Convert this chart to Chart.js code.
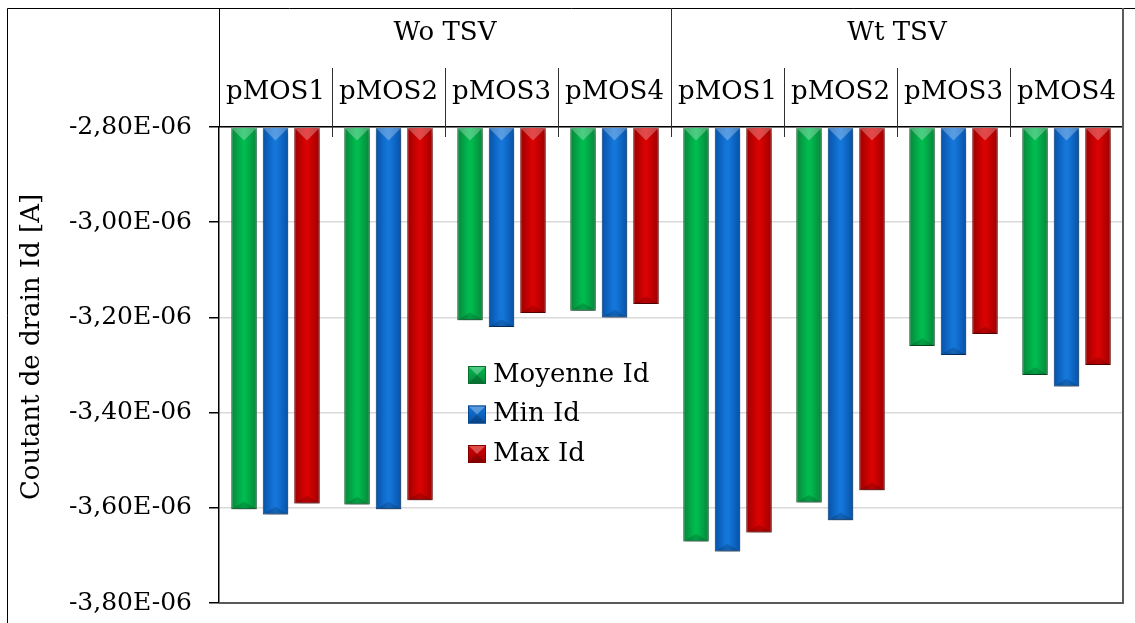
<!DOCTYPE html>
<html>
<head>
<meta charset="utf-8">
<script src="https://cdn.jsdelivr.net/npm/chart.js@4.4.1/dist/chart.umd.min.js"></script>
<style>
  body { margin: 0; background: #fff; }
  #wrap { width: 1135px; height: 623px; }
</style>
</head>
<body>
<div id="wrap"><canvas id="chart" width="1135" height="623"></canvas></div>
<script>
// data (A)
const categories = ['pMOS1', 'pMOS2', 'pMOS3', 'pMOS4', 'pMOS1', 'pMOS2', 'pMOS3', 'pMOS4'];
const groups = ['Wo TSV', 'Wt TSV'];
const moyenneId = [-3.603e-6, -3.593e-6, -3.206e-6, -3.186e-6, -3.671e-6, -3.589e-6, -3.260e-6, -3.321e-6];
const minId = [-3.614e-6, -3.603e-6, -3.220e-6, -3.200e-6, -3.692e-6, -3.626e-6, -3.279e-6, -3.345e-6];
const maxId = [-3.591e-6, -3.584e-6, -3.191e-6, -3.172e-6, -3.652e-6, -3.563e-6, -3.235e-6, -3.300e-6];
const yTitle = 'Coutant de drain Id [A]';

const FONT = "'DejaVu Serif', serif";
const CAT_PCT = 0.836;
const BAR_PCT = 0.81;

// [edge, centre, border]
const palette = [
  ['#08853a', '#00bb4f', '#0a6e30'],
  ['#0652a6', '#1576da', '#08458a'],
  ['#9c0000', '#d90202', '#800000']
];

function fmt(v) {
  const s = v.toExponential(2).split('e');
  const ex = parseInt(s[1], 10);
  return s[0].replace('.', ',') + 'E' + (ex < 0 ? '-' : '+') + String(Math.abs(ex)).padStart(2, '0');
}

// horizontal shading across each bar, from the x scale
function barFill(context) {
  const chart = context.chart;
  const x = chart.scales.x;
  const pal = palette[context.datasetIndex];
  if (!x || context.dataIndex === undefined) return pal[1];
  const cw = x.width / categories.length;
  const slot = cw * CAT_PCT / 3;
  const cx = x.getPixelForValue(context.dataIndex) + (context.datasetIndex - 1) * slot;
  const hw = slot * BAR_PCT / 2;
  if (!isFinite(cx) || !isFinite(hw) || hw <= 0) return pal[1];
  const g = chart.ctx.createLinearGradient(cx - hw, 0, cx + hw, 0);
  g.addColorStop(0, pal[0]);
  g.addColorStop(0.45, pal[1]);
  g.addColorStop(0.55, pal[1]);
  g.addColorStop(1, pal[0]);
  return g;
}

function dataset(label, values, i) {
  return {
    label,
    data: values,
    base: -2.8e-6,
    backgroundColor: barFill,
    borderColor: palette[i][2],
    borderWidth: 1,
    categoryPercentage: CAT_PCT,
    barPercentage: BAR_PCT
  };
}

function line(ctx, x1, y1, x2, y2) {
  ctx.beginPath();
  ctx.moveTo(x1, y1);
  ctx.lineTo(x2, y2);
  ctx.stroke();
}

const barStyle = {
  id: 'barStyle',
  beforeDatasetsDraw(chart) {
    const c = chart.ctx;
    c.save();
    c.shadowColor = 'rgba(0,0,0,0.35)';
    c.shadowBlur = 6;
    c.shadowOffsetX = 2;
    c.shadowOffsetY = 3;
  },
  afterDatasetsDraw(chart) {
    const c = chart.ctx;
    c.restore();
    const a = chart.chartArea;
    c.save();
    c.beginPath();
    c.rect(a.left, a.top, a.right - a.left, a.bottom - a.top);
    c.clip();
    chart.data.datasets.forEach((ds, di) => {
      chart.getDatasetMeta(di).data.forEach(bar => {
        const p = bar.getProps(['x', 'y', 'base', 'width'], true);
        const hw = p.width / 2;
        const d = Math.min(hw, Math.abs(p.y - p.base) / 2);
        // top face lighter
        c.fillStyle = 'rgba(255,255,255,0.28)';
        c.beginPath();
        c.moveTo(p.x - hw, p.base);
        c.lineTo(p.x + hw, p.base);
        c.lineTo(p.x, p.base + d);
        c.closePath();
        c.fill();
        // bottom face darker
        c.fillStyle = 'rgba(0,0,0,0.16)';
        c.beginPath();
        c.moveTo(p.x - hw, p.y);
        c.lineTo(p.x + hw, p.y);
        c.lineTo(p.x, p.y - d * 0.6);
        c.closePath();
        c.fill();
      });
    });
    c.restore();
  }
};

const frame = {
  id: 'frame',
  afterDraw(chart) {
    const {ctx, chartArea: a} = chart;
    const x = chart.scales.x;
    ctx.save();
    ctx.lineWidth = 1;
    ctx.strokeStyle = '#000';
    // outer frame (left + top visible)
    line(ctx, 7.5, 8.5, chart.width, 8.5);
    line(ctx, 7.5, 8.5, 7.5, chart.height);
    // header separators
    const half = (x.getPixelForValue(1) - x.getPixelForValue(0)) / 2;
    ctx.strokeStyle = '#303030';
    for (let i = 1; i < categories.length; i++) {
      const px = Math.round(x.getPixelForValue(i) - half) + 0.5;
      const top = (i % (categories.length / groups.length) === 0) ? 8 : 68;
      line(ctx, px, top, px, a.top + 10);
    }
    ctx.strokeStyle = '#000';
    line(ctx, Math.round(a.left) + 0.5, 8, Math.round(a.left) + 0.5, a.top);
    // right and bottom border
    ctx.strokeStyle = '#5a5a5a';
    ctx.lineWidth = 2;
    line(ctx, a.right, 8, a.right, a.bottom + 1);
    line(ctx, a.left, a.bottom, a.right + 1, a.bottom);
    // y title
    ctx.fillStyle = '#000';
    ctx.font = '26px ' + FONT;
    ctx.textAlign = 'center';
    ctx.textBaseline = 'middle';
    ctx.translate(32, 347);
    ctx.rotate(-Math.PI / 2);
    ctx.fillText(yTitle, 0, 0);
    ctx.restore();
  }
};

const innerLegend = {
  id: 'innerLegend',
  afterDraw(chart) {
    const ctx = chart.ctx;
    const lx = 468, ly = 375, step = 39.5, s = 18;
    ctx.save();
    ctx.font = '26px ' + FONT;
    ctx.textBaseline = 'middle';
    ctx.textAlign = 'left';
    chart.data.datasets.forEach((ds, i) => {
      const cy = ly + i * step;
      const top = cy - s / 2;
      const g = ctx.createLinearGradient(0, top, 0, top + s);
      g.addColorStop(0, palette[i][1]);
      g.addColorStop(1, palette[i][0]);
      ctx.fillStyle = g;
      ctx.fillRect(lx, top, s, s);
      ctx.fillStyle = 'rgba(255,255,255,0.3)';
      ctx.beginPath();
      ctx.moveTo(lx, top); ctx.lineTo(lx + s, top); ctx.lineTo(lx + s / 2, top + s / 2);
      ctx.closePath(); ctx.fill();
      ctx.fillStyle = 'rgba(0,0,0,0.18)';
      ctx.beginPath();
      ctx.moveTo(lx, top + s); ctx.lineTo(lx + s, top + s); ctx.lineTo(lx + s / 2, top + s / 2);
      ctx.closePath(); ctx.fill();
      ctx.strokeStyle = palette[i][2];
      ctx.lineWidth = 1;
      ctx.strokeRect(lx + 0.5, top + 0.5, s - 1, s - 1);
      ctx.fillStyle = '#000';
      ctx.fillText(ds.label, lx + s + 7, cy);
    });
    ctx.restore();
  }
};

function noPad(scale) {
  scale.paddingTop = 0;
  scale.paddingBottom = 0;
  scale.paddingLeft = 0;
  scale.paddingRight = 0;
}

Chart.defaults.font.family = FONT;
Chart.defaults.font.size = 26;
Chart.defaults.color = '#000';

new Chart(document.getElementById('chart'), {
  type: 'bar',
  data: {
    labels: categories,
    datasets: [
      dataset('Moyenne Id', moyenneId, 0),
      dataset('Min Id', minId, 1),
      dataset('Max Id', maxId, 2)
    ]
  },
  options: {
    responsive: false,
    animation: false,
    layout: { padding: { left: 7, top: 8, right: 12, bottom: 20 } },
    plugins: {
      legend: { display: false },
      tooltip: { enabled: false }
    },
    scales: {
      x: {
        position: 'top',
        weight: 0,
        grid: { display: false, drawTicks: false, tickLength: 0 },
        border: { display: true, color: '#000', width: 1.5 },
        ticks: { autoSkip: false, maxRotation: 0, padding: 19, font: { size: 26 } },
        afterFit(scale) { scale.height = 59; noPad(scale); }
      },
      x2: {
        type: 'category',
        labels: groups,
        position: 'top',
        weight: 1,
        offset: true,
        grid: { display: false, drawTicks: false, tickLength: 0 },
        border: { display: false },
        ticks: { autoSkip: false, maxRotation: 0, padding: 19, font: { size: 26 } },
        afterFit(scale) { scale.height = 60; noPad(scale); }
      },
      y: {
        min: -3.8e-6,
        max: -2.8e-6,
        grid: {
          color: '#d9d9d9',
          lineWidth: 1.5,
          tickColor: '#000',
          tickLength: 10
        },
        border: { color: '#000', width: 1.5 },
        ticks: {
          stepSize: 0.2e-6,
          padding: 17,
          font: { size: 25 },
          callback: (v) => fmt(v)
        },
        afterFit(scale) { scale.width = 212; noPad(scale); }
      }
    }
  },
  plugins: [barStyle, frame, innerLegend]
});
</script>
</body>
</html>
